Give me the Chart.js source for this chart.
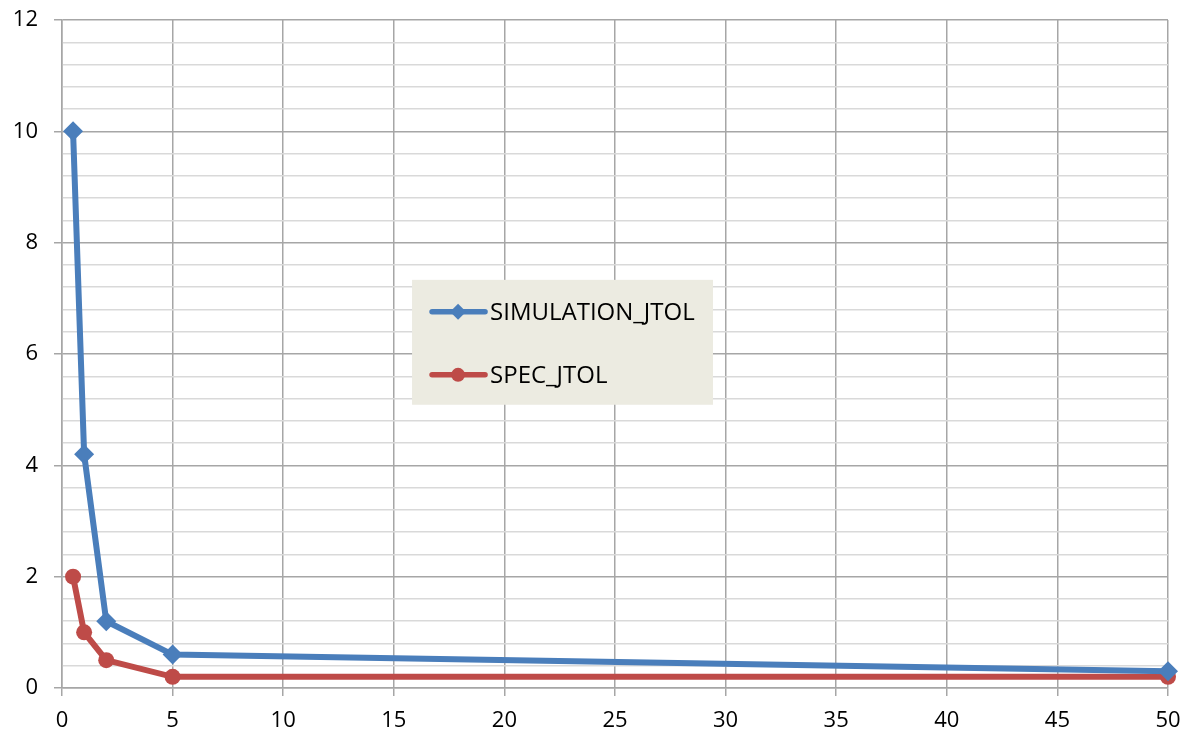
<!DOCTYPE html>
<html>
<head>
<meta charset="utf-8">
<script src="https://cdn.jsdelivr.net/npm/chart.js@4.4.1/dist/chart.umd.min.js"></script>
<style>
  html, body { margin: 0; padding: 0; background: #fff; }
  #wrap { width: 1183px; height: 734px; }
</style>
</head>
<body>
<div id="wrap"><canvas id="myChart"></canvas></div>
<script>
// frequency points and the two tolerance curves
const xValues = [0.5, 1, 2, 5, 50]
const simulationJtol = [10, 4.2, 1.2, 0.6, 0.3]
const specJtol = [2, 1, 0.5, 0.2, 0.2]
const seriesNames = ['SIMULATION_JTOL', 'SPEC_JTOL']

const blue = '#4A7EBB'
const red = '#BE4B48'
const fontFamily = "'Open Sans', 'Liberation Sans', sans-serif"

const toPoints = (xs, ys) => xs.map((x, i) => ({ x: x, y: ys[i] }))
const isMajor = v => Math.abs(v / 2 - Math.round(v / 2)) < 1e-6

// legend box drawn inside the plot like the original
const boxLegend = {
    id: 'boxLegend',
    afterDraw(chart) {
        const ctx = chart.ctx
        const a = chart.chartArea
        const w = a.right - a.left
        const h = a.bottom - a.top
        const x0 = a.left + w * 0.3165
        const y0 = a.top + h * 0.389
        const x1 = a.left + w * 0.5886
        const y1 = a.top + h * 0.576
        ctx.save()
        ctx.fillStyle = '#ECEBE1'
        ctx.fillRect(x0, y0, x1 - x0, y1 - y0)
        const rows = [y0 + 32, y0 + 95]
        chart.data.datasets.forEach((ds, i) => {
            const y = rows[i]
            ctx.strokeStyle = ds.borderColor
            ctx.lineWidth = 5.5
            ctx.lineCap = 'round'
            ctx.beginPath()
            ctx.moveTo(x0 + 20, y)
            ctx.lineTo(x0 + 73, y)
            ctx.stroke()
            ctx.fillStyle = ds.borderColor
            const cx = x0 + 46
            ctx.beginPath()
            if (ds.pointStyle === 'rectRot') {
                ctx.moveTo(cx, y - 8)
                ctx.lineTo(cx + 8, y)
                ctx.lineTo(cx, y + 8)
                ctx.lineTo(cx - 8, y)
                ctx.closePath()
            } else {
                ctx.arc(cx, y, 7, 0, Math.PI * 2)
            }
            ctx.fill()
            ctx.fillStyle = '#000'
            ctx.font = '24px ' + fontFamily
            ctx.textBaseline = 'middle'
            ctx.fillText(ds.label, x0 + 78, y + 1)
        })
        ctx.restore()
    }
}

// keep the plot edges where the original has them
const noOverhang = scale => {
    scale.paddingTop = 0
    scale.paddingBottom = 0
    scale.paddingLeft = 0
    scale.paddingRight = 0
}

let myChart = document.getElementById('myChart').getContext('2d')
let jtolChart = new Chart(myChart, {
    type: 'line',
    data: {
        datasets: [{
            label: seriesNames[0],
            data: toPoints(xValues, simulationJtol),
            borderColor: blue,
            backgroundColor: blue,
            borderWidth: 6,
            pointStyle: 'rectRot',
            pointRadius: 10,
            pointBorderWidth: 0,
            tension: 0,
            clip: false
        }, {
            label: seriesNames[1],
            data: toPoints(xValues, specJtol),
            borderColor: red,
            backgroundColor: red,
            borderWidth: 6,
            pointStyle: 'circle',
            pointRadius: 8,
            pointBorderWidth: 0,
            tension: 0,
            clip: false
        }]
    },
    options: {
        responsive: true,
        maintainAspectRatio: false,
        animation: false,
        layout: {
            padding: { top: 20, right: 15, left: 0, bottom: 0 }
        },
        plugins: {
            legend: { display: false },
            tooltip: { enabled: false }
        },
        scales: {
            x: {
                type: 'linear',
                min: 0,
                max: 50,
                afterFit: scale => { scale.height = 46; noOverhang(scale) },
                border: { color: '#A6A6A6', width: 1.5 },
                grid: {
                    color: '#A6A6A6',
                    lineWidth: 1.5,
                    tickLength: 8,
                    tickColor: '#A6A6A6'
                },
                ticks: {
                    stepSize: 5,
                    padding: 12,
                    color: '#000',
                    font: { family: fontFamily, size: 22 }
                }
            },
            y: {
                min: 0,
                max: 12,
                afterFit: scale => { scale.width = 62; noOverhang(scale) },
                border: { color: '#A6A6A6', width: 1.5 },
                grid: {
                    color: ctx => isMajor(ctx.tick.value) ? '#A6A6A6' : '#D9D9D9',
                    lineWidth: 1.5,
                    tickLength: 8,
                    tickColor: ctx => isMajor(ctx.tick.value) ? '#A6A6A6' : 'rgba(0,0,0,0)'
                },
                ticks: {
                    stepSize: 0.4,
                    autoSkip: false,
                    padding: 16,
                    color: '#000',
                    font: { family: fontFamily, size: 22 },
                    callback: v => isMajor(v) ? Math.round(v) : ''
                }
            }
        }
    },
    plugins: [boxLegend]
})
</script>
</body>
</html>
